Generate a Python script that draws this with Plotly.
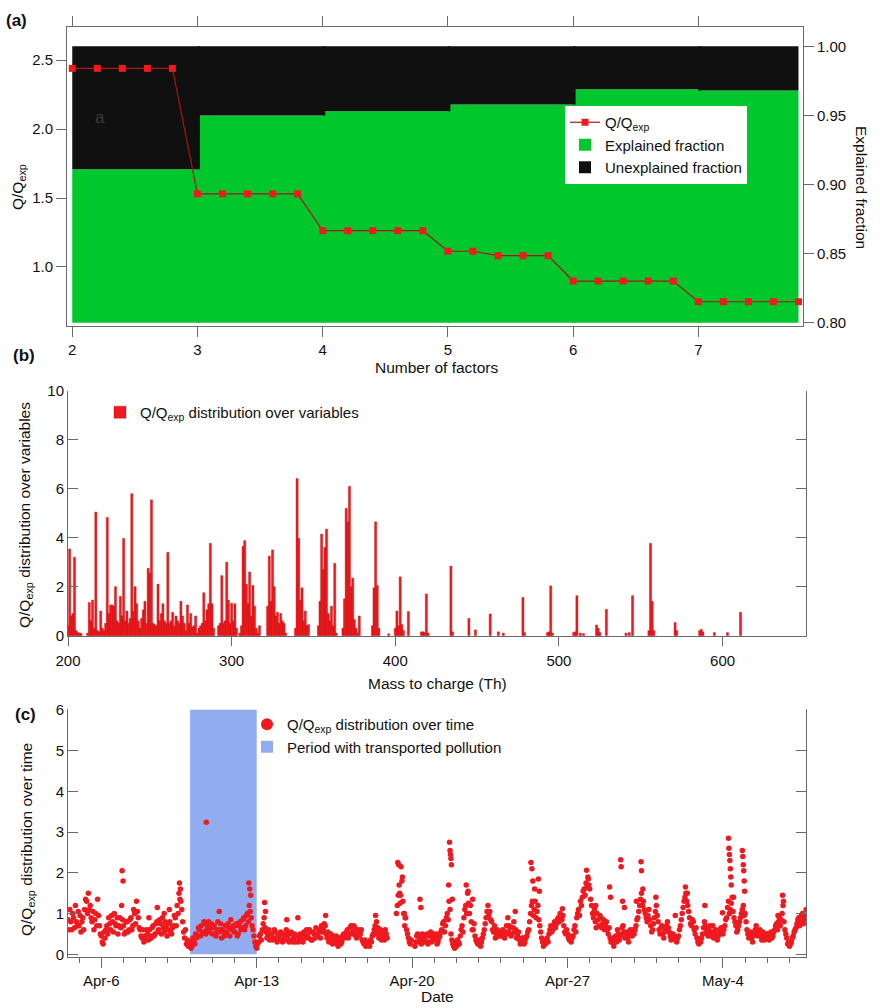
import pandas as pd
import plotly.graph_objects as go

# ---------------- (a) PMF diagnostics versus number of factors ----------------
factor_counts = [2, 3, 4, 5, 6, 7]
explained_fraction = [0.911, 0.950, 0.953, 0.958, 0.969, 0.968]
fraction_floor = 0.80

seed_positions = [2.0, 2.2, 2.4, 2.6, 2.8,
                  3.0, 3.2, 3.4, 3.6, 3.8,
                  4.0, 4.2, 4.4, 4.6, 4.8,
                  5.0, 5.2, 5.4, 5.6, 5.8,
                  6.0, 6.2, 6.4, 6.6, 6.8,
                  7.0, 7.2, 7.4, 7.6, 7.8]
q_qexp = [2.44, 2.44, 2.44, 2.44, 2.44,
          1.53, 1.53, 1.53, 1.53, 1.53,
          1.263, 1.263, 1.263, 1.263, 1.263,
          1.114, 1.114, 1.082, 1.082, 1.082,
          0.898, 0.898, 0.898, 0.898, 0.898,
          0.748, 0.748, 0.748, 0.748, 0.748]

# ---------------- (b) Q/Qexp over variables (m/z) ----------------
mz_values = [
    200, 201, 202, 203, 204, 205, 206, 207, 208, 212, 213, 214, 215, 216, 217, 218, 219, 220,
    221, 222, 223, 224, 225, 226, 227, 228, 229, 230, 231, 232, 233, 234, 235, 236, 237, 238,
    239, 240, 241, 242, 243, 244, 245, 246, 247, 248, 249, 250, 251, 252, 253, 254, 255, 256,
    257, 258, 259, 260, 261, 262, 263, 264, 265, 266, 267, 268, 269, 270, 271, 272, 273, 274,
    275, 276, 277, 278, 279, 280, 281, 282, 283, 284, 285, 286, 287, 288, 289, 292, 293, 294,
    295, 296, 297, 298, 299, 300, 301, 302, 303, 305, 306, 307, 308, 309, 310, 311, 312, 313,
    314, 315, 316, 317, 322, 323, 324, 325, 326, 327, 328, 329, 330, 331, 332, 333, 339, 340,
    341, 342, 343, 344, 345, 346, 347, 353, 354, 355, 356, 357, 358, 359, 360, 361, 362, 363,
    364, 368, 369, 370, 371, 372, 373, 374, 375, 376, 377, 378, 386, 387, 388, 389, 390, 396,
    400, 401, 402, 403, 404, 405, 408, 416, 417, 418, 419, 420,
    434, 435, 445, 449, 458, 463, 466, 478, 479, 493, 494, 495, 496, 509, 510, 511, 513, 515,
    523, 524, 525, 529, 541, 543, 545, 555, 556, 557, 558, 571, 572, 586, 587, 588, 595, 603,
    611,
]
q_var = [
    0.4, 3.54, 0.8, 0.9, 3.2, 0.2, 0.12, 0.1, 0.08, 0.1, 1.35, 0.6, 1.45, 0.3, 5.05, 0.2, 0.15, 1.0,
    0.3, 0.2, 0.5, 4.83, 0.9, 1.25, 1.25, 1.2, 2.0, 0.6, 0.5, 1.6, 0.8, 3.97, 0.6, 1.0, 0.5, 0.7,
    5.8, 1.0, 2.0, 1.3, 0.6, 0.3, 0.7, 1.05, 1.4, 0.5, 2.75, 2.55, 5.55, 0.5, 0.45, 0.4, 2.1, 0.6,
    0.9, 1.3, 0.6, 0.5, 3.4, 0.5, 0.6, 0.95, 0.4, 0.8, 0.6, 0.5, 1.4, 0.8, 0.5, 0.2, 1.25, 0.5,
    0.9, 0.35, 0.4, 0.8, 0.1, 0.3, 0.4, 0.5, 1.75, 0.6, 1.05, 1.3, 3.77, 1.3, 0.3, 0.4, 0.5, 2.45,
    0.5, 0.6, 3.0, 1.45, 0.5, 1.32, 0.6, 1.3, 0.3, 0.1, 0.4, 3.65, 3.88, 2.1, 1.3, 2.6, 0.8, 2.05,
    1.2, 0.3, 0.1, 0.4, 1.2, 3.25, 1.4, 3.5, 2.0, 0.8, 0.95, 0.5, 0.9, 0.6, 0.5, 0.1, 0.3, 6.42,
    3.97, 1.45, 1.95, 0.6, 1.0, 0.4, 0.45, 0.4, 1.4, 4.15, 2.7, 3.6, 4.35, 0.9, 0.6, 1.2, 0.4, 2.95,
    0.1, 0.3, 1.5, 5.2, 4.65, 6.1, 2.0, 2.35, 0.65, 0.3, 0.1, 0.8, 0.4, 1.95, 4.65, 2.05, 0.3, 0.07,
    0.3, 1.0, 0.4, 2.4, 0.45, 0.2, 0.98, 0.15, 0.15, 0.12, 1.7, 0.1,
    2.84, 0.15, 0.7, 0.23, 0.88, 0.15, 0.1, 1.56, 0.12, 0.12, 0.15, 2.03, 0.1, 0.12, 0.15, 1.63, 0.1, 0.08,
    0.43, 0.3, 0.12, 1.07, 0.1, 0.12, 1.63, 0.2, 3.77, 1.4, 0.2, 0.53, 0.2, 0.2, 0.25, 0.15, 0.12, 0.12,
    0.95,
]

# ---------------- (c) Q/Qexp over time ----------------
# even-hour samples
q_time_even_start = "2015-04-04 12:00"
q_time_even = [
    0.85, 1.1, 0.6, 0.9, 1.2, 0.7,                                    # Apr-4 (12-22h)
    0.7, 0.55, 0.9, 1.1, 1.3, 1.5, 1.2, 0.8, 0.6, 1.0, 1.35, 0.7,     # Apr-5
    0.45, 0.25, 0.4, 0.7, 0.9, 0.6, 0.8, 1.0, 0.7, 0.5, 0.9, 1.2,     # Apr-6
    0.7, 0.55, 0.8, 0.6, 0.9, 0.7, 1.0, 1.3, 0.9, 0.6, 0.4, 0.3,      # Apr-7
    0.35, 0.5, 0.6, 0.4, 0.7, 0.5, 0.8, 0.6, 0.75, 0.9, 0.55, 0.7,    # Apr-8
    0.6, 0.8, 0.5, 0.7, 0.9, 1.2, 1.5, 1.3, 0.8, 0.4, 0.25, 0.2,      # Apr-9
    0.3, 0.2, 0.35, 0.5, 0.45, 0.6, 0.7, 0.55, 0.75, 0.6, 0.8, 0.65,  # Apr-10
    0.5, 0.7, 0.45, 0.8, 0.6, 0.4, 0.55, 0.7, 0.5, 0.65, 0.85, 0.6,   # Apr-11
    0.55, 0.75, 0.5, 0.8, 0.65, 0.9, 0.7, 1.0, 1.2, 0.9, 0.6, 0.3,    # Apr-12
    0.15, 0.3, 0.5, 0.6, 0.9, 0.55, 0.45, 0.35, 0.5, 0.4, 0.55, 0.3,  # Apr-13
    0.4, 0.55, 0.3, 0.45, 0.6, 0.5, 0.35, 0.5, 0.4, 0.3, 0.45, 0.35,  # Apr-14
    0.45, 0.3, 0.5, 0.6, 0.4, 0.55, 0.35, 0.5, 0.65, 0.45, 0.55, 0.7, # Apr-15
    0.6, 0.7, 0.4, 0.3, 0.5, 0.25, 0.35, 0.45, 0.2, 0.4, 0.3, 0.5,    # Apr-16
    0.45, 0.6, 0.5, 0.7, 0.55, 0.65, 0.4, 0.6, 0.5, 0.35, 0.25, 0.2,  # Apr-17
    0.25, 0.2, 0.3, 0.5, 0.7, 0.55, 0.4, 0.6, 0.45, 0.35, 0.5, None,  # Apr-18
    None, None, None, None, 1.2, 1.7, 2.15, 1.3, 0.7, 0.6, 0.4, 0.25, # Apr-19
    None, None, 0.3, 0.5, 0.4, 0.25, 0.45, 0.35, 0.5, 0.3, 0.55, 0.4, # Apr-20
    0.35, 0.5, 0.3, 0.45, 0.6, 0.8, 0.7, 1.0, 1.3, 0.5, 0.25, 0.15,   # Apr-21
    0.2, 0.3, 0.45, 0.7, 0.9, 1.2, 1.5, 1.0, 0.8, 0.6, 0.45, 0.3,     # Apr-22
    0.35, 0.2, 0.4, 0.6, 0.9, 1.2, 1.05, 0.8, 0.55, 0.4, 0.6, 0.45,   # Apr-23
    0.5, 0.6, 0.4, 0.7, 0.55, 0.65, 0.5, 0.8, 0.6, 0.45, 0.35, 0.3,   # Apr-24
    0.4, 0.3, 0.45, 0.6, 1.0, 1.3, 1.1, 0.9, 1.2, 0.7, 0.4, 0.2,      # Apr-25
    0.25, 0.4, 0.5, 0.7, 0.6, 0.8, 0.75, 0.9, 1.0, 0.85, 0.7, 0.5,    # Apr-26
    0.5, 0.35, 0.3, 0.45, 0.7, 0.9, 1.1, 1.3, 1.4, 1.6, 1.75, 1.9,    # Apr-27
    1.6, 1.2, 0.9, 0.8, 1.0, 0.7, 0.9, 0.75, 0.6, 0.8, 0.5, 0.4,      # Apr-28
    0.3, 0.2, 0.45, 0.6, 0.35, 0.5, 0.7, 0.4, 0.55, 0.3, 0.6, 0.45,   # Apr-29
    0.5, 0.7, 0.9, 1.2, 1.5, 1.3, 1.0, 0.8, 1.1, 0.7, 0.6, 0.9,       # Apr-30
    1.2, 0.8, 0.5, 0.7, 0.4, 0.6, 0.8, 0.55, 0.35, 0.5, 0.45, 0.3,    # May-1
    0.45, 0.7, 1.0, 1.3, 1.5, 1.2, 0.9, 0.7, 0.8, 0.5, 0.4, 0.25,     # May-2
    0.3, 0.5, 0.8, 0.6, 0.45, 0.7, 0.55, 0.4, 0.6, 0.35, 0.5, 0.65,   # May-3
    0.5, 0.7, 0.9, 1.3, 1.1, 1.4, 0.9, 0.7, 0.6, 0.8, 1.0, 1.2,       # May-4
    1.0, 0.6, 0.4, 0.55, 0.3, 0.5, 0.7, 0.45, 0.6, 0.35, 0.5, 0.4,    # May-5
    0.5, 0.35, 0.55, 0.45, 0.6, 0.75, 0.8, 0.7, 1.0, 0.8, 0.5, 0.25,  # May-6
    0.2, 0.3, 0.45, 0.6, 0.75, 0.9, 0.8, 1.0, 0.85, 1.1,              # May-7 (0-18h)
]
# odd-hour samples
q_time_odd_start = "2015-04-04 13:00"
q_time_odd = [
    0.6, 0.8, 1.0, 0.65, 0.8, 1.05,                                   # Apr-4 (13-23h)
    0.95, 0.8, 0.6, 1.35, 1.0, 1.1, 0.9, 1.05, 0.85, 0.7, 0.95, 0.5,  # Apr-5
    0.3, 0.55, 0.6, 0.5, 0.75, 0.95, 0.55, 0.75, 0.9, 0.7, 0.65, 0.85,# Apr-6
    0.5, 0.8, 0.55, 0.85, 0.6, 1.1, 0.75, 1.05, 0.65, 0.45, 0.6, 0.45,# Apr-7
    0.6, 0.35, 0.45, 0.65, 0.45, 0.75, 0.55, 0.85, 0.5, 0.65, 0.8, 0.45, # Apr-8
    0.75, 0.55, 0.65, 0.95, 0.7, 1.0, 1.35, 1.1, 0.55, 0.6, 0.35, 0.3,   # Apr-9
    0.15, 0.4, 0.25, 0.4, 0.65, 0.45, 0.5, 0.8, 0.5, 0.7, 0.55, 0.75,    # Apr-10
    0.65, 0.5, 0.6, 0.55, 0.75, 0.6, 0.45, 0.55, 0.75, 0.45, 0.6, 0.7,   # Apr-11
    0.7, 0.45, 0.7, 0.6, 0.85, 0.6, 0.95, 0.8, 1.05, 0.7, 0.45, 0.2,     # Apr-12
    0.25, 0.45, 0.35, 0.75, 0.65, 0.4, 0.6, 0.5, 0.35, 0.6, 0.4, 0.45,   # Apr-13
    0.5, 0.35, 0.5, 0.35, 0.45, 0.3, 0.55, 0.3, 0.5, 0.45, 0.3, 0.5,     # Apr-14
    0.35, 0.55, 0.4, 0.45, 0.6, 0.35, 0.55, 0.4, 0.5, 0.6, 0.4, 0.55,    # Apr-15
    0.75, 0.5, 0.55, 0.4, 0.35, 0.45, 0.3, 0.25, 0.35, 0.25, 0.45, 0.4,  # Apr-16
    0.55, 0.4, 0.65, 0.5, 0.7, 0.45, 0.55, 0.45, 0.6, 0.3, 0.35, 0.25,   # Apr-17
    0.3, 0.35, 0.45, 0.6, 0.5, 0.65, 0.5, 0.35, 0.55, 0.6, 0.4, None,    # Apr-18
    None, None, None, 1.0, 1.45, 1.25, 1.8, 1.0, 0.9, 0.5, 0.3, 0.35,    # Apr-19
    None, 0.2, 0.45, 0.3, 0.35, 0.5, 0.3, 0.45, 0.25, 0.45, 0.3, 0.5,    # Apr-20
    0.45, 0.25, 0.4, 0.55, 0.75, 0.55, 0.9, 0.85, 1.1, 0.35, 0.2, 0.3,   # Apr-21
    0.35, 0.25, 0.6, 0.55, 1.1, 1.0, 1.25, 1.2, 0.6, 0.75, 0.35, 0.25,   # Apr-22
    0.25, 0.3, 0.5, 0.75, 1.05, 0.95, 0.85, 0.6, 0.7, 0.5, 0.45, 0.55,   # Apr-23
    0.45, 0.45, 0.55, 0.5, 0.7, 0.45, 0.65, 0.55, 0.4, 0.55, 0.25, 0.4,  # Apr-24
    0.25, 0.4, 0.55, 0.8, 1.2, 0.95, 1.3, 1.05, 0.85, 0.55, 0.3, 0.3,    # Apr-25
    0.35, 0.3, 0.6, 0.55, 0.7, 0.65, 0.85, 0.8, 0.85, 0.95, 0.55, 0.6,   # Apr-26
    0.4, 0.45, 0.4, 0.6, 0.55, 1.0, 0.95, 1.2, 1.55, 1.45, 1.65, 1.7,    # Apr-27
    1.35, 1.0, 1.1, 0.65, 0.85, 0.95, 0.65, 0.85, 0.7, 0.6, 0.65, 0.3,   # Apr-28
    0.4, 0.35, 0.3, 0.5, 0.45, 0.65, 0.55, 0.5, 0.4, 0.45, 0.5, 0.6,     # Apr-29
    0.6, 0.85, 1.05, 1.35, 1.2, 1.1, 0.9, 0.95, 0.85, 0.55, 0.75, 1.05,  # Apr-30
    0.95, 0.6, 0.65, 0.5, 0.55, 0.7, 0.65, 0.45, 0.5, 0.4, 0.35, 0.4,    # May-1
    0.6, 0.85, 1.15, 1.4, 1.3, 1.05, 0.75, 0.85, 0.6, 0.65, 0.3, 0.35,   # May-2
    0.4, 0.65, 0.7, 0.5, 0.6, 0.45, 0.7, 0.5, 0.45, 0.45, 0.6, 0.55,     # May-3
    0.6, 0.85, 1.15, 1.0, 1.25, 1.05, 0.8, 0.55, 0.7, 0.9, 1.1, 0.95,    # May-4
    0.8, 0.5, 0.45, 0.4, 0.45, 0.6, 0.55, 0.5, 0.45, 0.55, 0.35, 0.5,    # May-5
    0.4, 0.45, 0.4, 0.55, 0.7, 0.6, 0.9, 0.85, 1.2, 0.6, 0.4, 0.3,       # May-6
    0.25, 0.4, 0.55, 0.65, 0.85, 0.7, 0.95, 0.75, 0.95,                  # May-7 (1-17h)
]

# isolated high readings between the regular samples
spike_times = [
    "2015-04-06 22:30", "2015-04-06 23:30", "2015-04-08 03:30", "2015-04-08 12:30",
    "2015-04-08 20:00", "2015-04-09 01:30", "2015-04-09 12:30", "2015-04-09 13:30",
    "2015-04-10 17:30", "2015-04-11 07:30", "2015-04-12 15:30", "2015-04-12 16:30",
    "2015-04-12 17:30", "2015-04-13 08:30", "2015-04-13 09:30", "2015-04-14 08:30",
    "2015-04-14 20:30", "2015-04-16 02:30", "2015-04-18 08:30", "2015-04-18 09:30",
    "2015-04-19 08:30", "2015-04-19 09:30", "2015-04-19 10:30", "2015-04-19 11:30",
    "2015-04-19 13:30", "2015-04-19 15:30", "2015-04-19 16:30", "2015-04-20 08:30",
    "2015-04-20 09:30", "2015-04-21 15:30", "2015-04-21 16:30", "2015-04-21 17:00",
    "2015-04-21 17:30", "2015-04-21 18:00", "2015-04-21 18:30", "2015-04-21 19:30",
    "2015-04-22 10:30", "2015-04-22 12:30", "2015-04-22 17:30", "2015-04-24 07:30",
    "2015-04-24 15:30", "2015-04-25 08:30", "2015-04-25 09:30", "2015-04-25 10:30",
    "2015-04-25 12:30", "2015-04-25 16:30", "2015-04-25 17:30", "2015-04-26 18:30",
    "2015-04-27 20:30", "2015-04-27 22:30", "2015-04-28 06:30", "2015-04-28 21:30",
    "2015-04-28 22:30", "2015-04-29 09:30", "2015-04-29 10:00", "2015-04-29 11:30",
    "2015-04-29 13:30", "2015-04-30 02:30", "2015-04-30 07:30", "2015-04-30 08:00",
    "2015-04-30 09:30", "2015-04-30 23:30", "2015-05-01 20:30", "2015-05-02 07:30",
    "2015-05-02 09:30", "2015-05-03 04:30", "2015-05-03 23:30", "2015-05-04 06:00",
    "2015-05-04 06:30", "2015-05-04 07:00", "2015-05-04 07:30", "2015-05-04 08:00",
    "2015-05-04 08:30", "2015-05-04 09:00", "2015-05-04 11:30", "2015-05-04 21:00",
    "2015-05-04 21:30", "2015-05-04 22:00", "2015-05-04 22:30", "2015-05-04 23:00",
    "2015-05-04 23:30", "2015-05-06 11:30", "2015-05-06 16:30", "2015-05-06 17:30",
]
spike_values = [
    2.05, 1.8, 0.9, 1.15,
    1.0, 1.1, 1.75, 1.6,
    3.24, 1.05, 1.75, 1.6,
    1.45, 1.27, 1.05, 0.85,
    0.9, 0.95, 0.95, 0.8,
    2.25, 2.2, 1.5, 1.45,
    1.9, 1.0, 0.9, 1.35,
    1.15, 1.7, 2.75, 2.55,
    2.45, 2.35, 2.2, 1.35,
    1.7, 1.55, 1.35, 0.9,
    1.05, 2.25, 2.1, 1.8,
    1.6, 1.85, 1.55, 1.12,
    2.06, 1.85, 1.2, 1.65,
    1.4, 2.32, 2.15, 1.3,
    1.15, 1.3, 2.27, 2.05,
    1.6, 1.4, 0.95, 1.65,
    1.5, 1.2, 1.02, 2.85,
    2.6, 2.45, 2.3, 2.1,
    1.9, 1.7, 1.4, 2.55,
    2.4, 2.2, 2.05, 1.8,
    1.55, 0.95, 1.45, 1.3,
]

pollution_start = "2015-04-10"
pollution_end = "2015-04-13"
pollution_top = 6

# ---------------- styling ----------------
FONT = "Liberation Sans, Arial, Helvetica, sans-serif"
GREEN = "#00c72c"
BLACK = "#101010"
RED = "#ee1a1f"
DARK_RED = "#a81616"
BLUE = "#92acf0"
AXIS = "#6a6a6a"
W, H = 880, 1008


def px_x(p):
    return p / W


def px_y(p):
    return 1 - p / H


fig = go.Figure()

# (a) stacked explained / unexplained fraction as stepped bars
seam = 0.02  # small overlap so neighbouring steps join without a hairline
last_seed = seed_positions[-1]
bar_width = [min(n + 1 + seam, last_seed) - n for n in factor_counts]
fig.add_trace(go.Bar(
    x=factor_counts, y=[e - fraction_floor for e in explained_fraction], base=fraction_floor,
    width=bar_width, offset=0, marker=dict(color=GREEN, line=dict(width=0)),
    name="Explained fraction", xaxis="x", yaxis="y", legend="legend", legendrank=2,
))
fig.add_trace(go.Bar(
    x=factor_counts, y=[1 - e for e in explained_fraction], base=explained_fraction,
    width=bar_width, offset=0, marker=dict(color=BLACK, line=dict(width=0)),
    name="Unexplained fraction", xaxis="x", yaxis="y", legend="legend", legendrank=3,
))
fig.add_trace(go.Scatter(
    x=seed_positions, y=q_qexp, mode="lines+markers",
    marker=dict(symbol="square", size=7, color=RED),
    line=dict(color=DARK_RED, width=1.2),
    name="Q/Q<sub>exp</sub>", xaxis="x", yaxis="y2", legend="legend", legendrank=1,
))

# (b) spectrum-like bars
fig.add_trace(go.Bar(
    x=mz_values, y=q_var, width=1.3,
    marker=dict(color=RED, line=dict(color="#c01010", width=0.4)),
    name="Q/Q<sub>exp</sub> distribution over variables",
    xaxis="x2", yaxis="y3", legend="legend2",
))

# (c) transported-pollution period and time series
period_ms = (pd.Timestamp(pollution_end) - pd.Timestamp(pollution_start)).total_seconds() * 1000
fig.add_trace(go.Bar(
    x=[pollution_start], y=[pollution_top], base=0, width=[period_ms], offset=0,
    marker=dict(color=BLUE, line=dict(width=0)),
    name="Period with transported pollution", xaxis="x3", yaxis="y4",
    legend="legend3", legendrank=2,
))
t_even = pd.date_range(q_time_even_start, periods=len(q_time_even), freq="2h")
t_odd = pd.date_range(q_time_odd_start, periods=len(q_time_odd), freq="2h")
t_all = list(t_even) + list(t_odd) + [pd.Timestamp(t) for t in spike_times]
v_all = list(q_time_even) + list(q_time_odd) + list(spike_values)
fig.add_trace(go.Scatter(
    x=t_all, y=v_all, mode="markers",
    marker=dict(symbol="circle", size=5.5, color=RED, line=dict(width=0)),
    name="Q/Q<sub>exp</sub> distribution over time", xaxis="x3", yaxis="y4",
    legend="legend3", legendrank=1,
))

tickfont = dict(family=FONT, size=15, color="#111")
common = dict(showgrid=False, zeroline=False, showline=True, linecolor=AXIS, linewidth=1,
              tickcolor=AXIS, tickwidth=1, tickfont=tickfont, automargin=False)

legend_font = dict(family=FONT, size=15, color="#111")
fig.update_layout(
    width=W, height=H, margin=dict(l=0, r=0, t=0, b=0, pad=0, autoexpand=False),
    paper_bgcolor="white", plot_bgcolor="white",
    barmode="overlay", font=dict(family=FONT, size=15, color="#111"),
    xaxis=dict(domain=[px_x(67), px_x(803)], range=[1.958, 7.836], anchor="y",
               tickvals=factor_counts, ticks="outside", ticklen=10, mirror="ticks", **common),
    yaxis=dict(domain=[px_y(326), px_y(27)], range=[0.7976, 1.014], side="right", anchor="x",
               tickvals=[0.80, 0.85, 0.90, 0.95, 1.00], tickformat=".2f",
               ticks="outside", ticklen=10, **common),
    yaxis2=dict(overlaying="y", side="left", range=[0.572, 2.74], anchor="x",
                tickvals=[1.0, 1.5, 2.0, 2.5], tickformat=".1f",
                ticks="outside", ticklen=10, **common),
    xaxis2=dict(domain=[px_x(68), px_x(806)], range=[200, 651], anchor="y3",
                tickvals=[200, 300, 400, 500, 600], ticks="outside", ticklen=9,
                ticklabelstandoff=2, **common),
    yaxis3=dict(domain=[px_y(636), px_y(391)], range=[-0.02, 10], anchor="x2",
                tickvals=[0, 2, 4, 6, 8, 10], ticks="inside", ticklen=10, mirror="ticks", **common),
    xaxis3=dict(domain=[px_x(68), px_x(806)], type="date",
                range=["2015-04-04 12:00", "2015-05-07 17:50"], anchor="y4",
                tick0="2015-04-06", dtick=7 * 86400000, tickformat="%b-%-d",
                ticks="outside", ticklen=10,
                minor=dict(dtick=86400000, ticks="outside", ticklen=5, tickcolor=AXIS, showgrid=False),
                **common),
    yaxis4=dict(domain=[px_y(957), px_y(709)], range=[-0.066, 6.02], anchor="x3",
                tickvals=[0, 1, 2, 3, 4, 5, 6], ticks="inside", ticklen=10, mirror="ticks", **common),
    legend=dict(x=px_x(565), y=px_y(106), xanchor="left", yanchor="top",
                bgcolor="white", borderwidth=0, itemwidth=30, tracegroupgap=0,
                font=legend_font),
    legend2=dict(x=px_x(100), y=px_y(396), xanchor="left", yanchor="top",
                 bgcolor="rgba(0,0,0,0)", itemwidth=30, font=legend_font),
    legend3=dict(x=px_x(247), y=px_y(708), xanchor="left", yanchor="top",
                 bgcolor="rgba(0,0,0,0)", itemwidth=30, itemsizing="constant",
                 font=legend_font),
    showlegend=True,
)

ann_font = dict(family=FONT, size=15.5, color="#111")
label_font = dict(family=FONT, size=17, color="#111")
annotations = [
    dict(text="<b>(a)</b>", x=px_x(4), y=px_y(20), xanchor="left", font=label_font),
    dict(text="<b>(b)</b>", x=px_x(11), y=px_y(355), xanchor="left", font=label_font),
    dict(text="<b>(c)</b>", x=px_x(13), y=px_y(714), xanchor="left", font=label_font),
    dict(text="a", x=px_x(100), y=px_y(117), font=dict(family=FONT, size=17, color="#3a3a3a")),
    dict(text="Number of factors", x=px_x(436), y=px_y(367), font=ann_font),
    dict(text="Q/Q<sub>exp</sub>", x=px_x(18), y=px_y(187), textangle=-90, font=ann_font),
    dict(text="Explained fraction", x=px_x(862), y=px_y(187), textangle=90, font=ann_font),
    dict(text="Q/Q<sub>exp</sub> distribution over variables", x=px_x(25), y=px_y(515),
         textangle=-90, font=ann_font),
    dict(text="Mass to charge (Th)", x=px_x(437), y=px_y(683), font=ann_font),
    dict(text="Q/Q<sub>exp</sub> distribution over time", x=px_x(27), y=px_y(840),
         textangle=-90, font=ann_font),
    dict(text="Date", x=px_x(437), y=px_y(996), font=ann_font),
]
for a in annotations:
    a.setdefault("xanchor", "center")
    a.update(xref="paper", yref="paper", yanchor="middle", showarrow=False)
fig.update_layout(annotations=annotations)

fig.write_html("out.html")
